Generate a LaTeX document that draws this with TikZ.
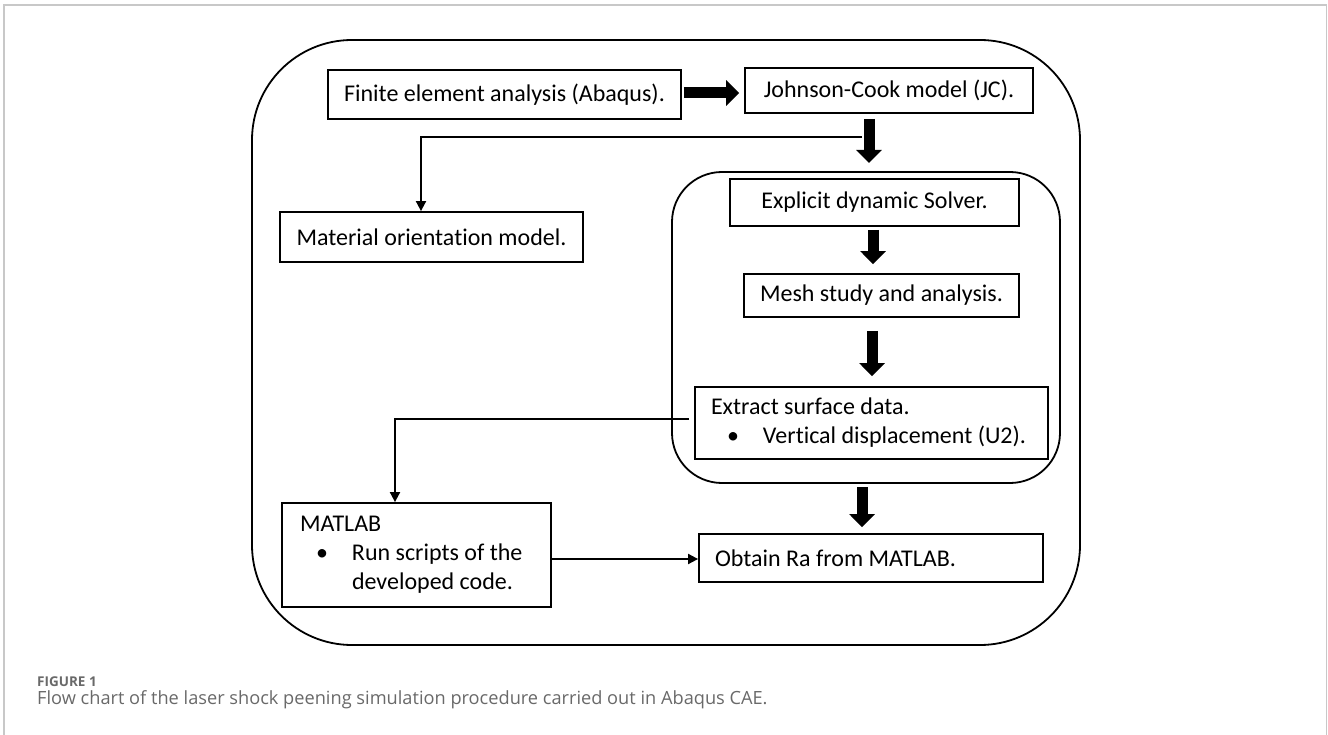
\documentclass[tikz,border=0pt]{standalone}
\usepackage{fontspec}
\setmainfont{Carlito}[Ligatures=NoCommon]
\newfontfamily\capfont{Open Sans}
\usetikzlibrary{arrows.meta,calc}
\definecolor{framegrey}{RGB}{200,200,200}
\definecolor{capgrey}{RGB}{105,105,105}
\begin{document}
\begin{tikzpicture}[x=1pt,y=-1pt,
  box/.style={draw, line width=1.8pt, inner sep=0pt, font=\fontsize{24}{29}\selectfont},
  lbox/.style={box, align=flush left, inner xsep=16pt},
  bigarrow/.style={line width=11pt, -{Triangle[width=25pt,length=13pt]}},
  thinarrow/.style={line width=1.8pt, -{Triangle[width=10pt,length=10pt]}},
  container/.style={draw, line width=1.8pt}]
\useasboundingbox (0,0) rectangle (1328,735);
% page frame
\draw[framegrey, line width=1.2pt] (4,735) -- (4,5) -- (1326.5,5) -- (1326.5,735);
% containers
\draw[container, rounded corners=100pt] (252,40) rectangle (1080,645);
\draw[container, rounded corners=50pt] (672,172) rectangle (1060,483);
\coordinate (innertop) at (869,172);
\coordinate (innerbot) at (862,483);
% boxes
\node[box, minimum width=353pt, minimum height=49pt] (fea) at (504.5,94.5) {Finite element analysis (Abaqus).};
\node[box, minimum width=288pt, minimum height=45pt] (jc) at (889,90.5) {Johnson-Cook model (JC).};
\node[box, minimum width=303pt, minimum height=50pt] (mat) at (431.5,237) {Material orientation model.};
\node[box, minimum width=289pt, minimum height=47pt] (exp) at (874.5,202.5) {Explicit dynamic Solver.};
\node[box, minimum width=275pt, minimum height=43pt] (mesh) at (881.5,295.5) {Mesh study and analysis.};
\node[lbox, text width=321pt, minimum height=72pt] (ext) at (871.5,423)
  {Extract surface data.\\\hspace*{16pt}\makebox[36pt][l]{\textbullet}Vertical displacement (U2).};
\node[lbox, text width=312pt, minimum height=48pt] (obt) at (871,558) {Obtain Ra from MATLAB.};
\node[lbox, inner xsep=18pt, text width=233pt, minimum height=104pt] (mlb) at (416.5,555)
  {MATLAB\\\hspace*{16pt}\makebox[36pt][l]{\textbullet}Run scripts of the\\\hspace*{52pt}developed code.};
% thick arrows
\coordinate (feaout) at ([xshift=2pt,yshift=1.5pt]fea.east);
\coordinate (jcin) at ([xshift=-5pt]jc.west);
\draw[bigarrow] (feaout) -- (feaout -| jcin);
\draw[bigarrow] ([xshift=-20pt,yshift=-5pt]jc.south) -- ([yshift=9pt]innertop);
\coordinate (expout) at ([xshift=-1.5pt,yshift=-3pt]exp.south);
\draw[bigarrow] (expout) -- ([yshift=9pt]expout |- mesh.north);
\coordinate (meshout) at ([xshift=-9.5pt,yshift=-13pt]mesh.south);
\draw[bigarrow] (meshout) -- ([yshift=10pt]meshout |- ext.north);
\draw[bigarrow] ([yshift=-4pt]innerbot) -- ([yshift=6pt]innerbot |- obt.north);
% thin arrows
\coordinate (jcbranch) at (862,137);
\draw[thinarrow] (jcbranch) -| ([xshift=-10.5pt]mat.north);
\draw[thinarrow] ([xshift=-5pt,yshift=4pt]ext.west) -| ([xshift=-21.5pt]mlb.north);
\coordinate (mlbout) at ([yshift=-4pt]mlb.east);
\draw[thinarrow] (mlbout) -- (mlbout -| obt.west);
% caption
\node[anchor=base west, inner sep=0pt, text=capgrey, font=\capfont\fontsize{13.5}{16}\selectfont\bfseries] (figlabel) at (37,686) {FIGURE 1};
\node[anchor=base west, inner sep=0pt, text=capgrey, font=\capfont\fontsize{18.2}{20}\selectfont] (caption) at (37,704) {Flow chart of the laser shock peening simulation procedure carried out in Abaqus CAE.};
\end{tikzpicture}
\end{document}
